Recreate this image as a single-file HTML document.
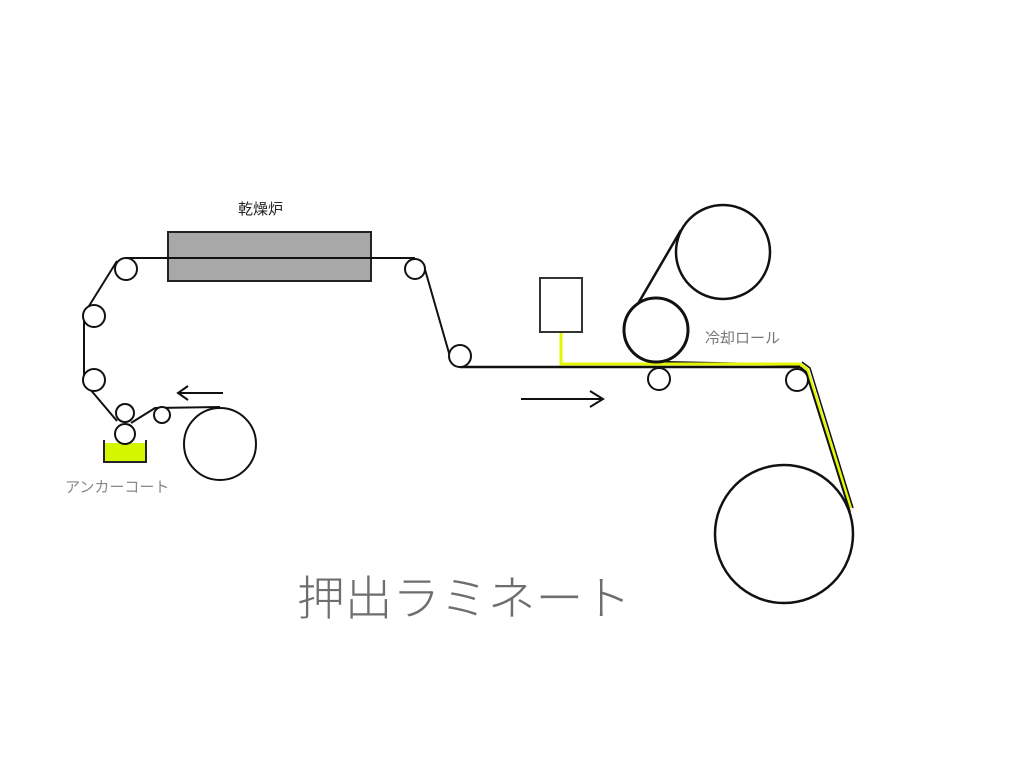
<!DOCTYPE html>
<html><head><meta charset="utf-8"><style>
html,body{margin:0;padding:0;background:#fff;width:1024px;height:768px;overflow:hidden}
svg{display:block}
text{font-family:"Liberation Sans","Noto Sans CJK JP",sans-serif}
</style></head><body>
<svg width="1024" height="768" viewBox="0 0 1024 768" xmlns="http://www.w3.org/2000/svg">
<g fill="none" stroke="#111" stroke-width="2">
<rect x="168" y="232" width="203" height="49" fill="#a8a8a8" stroke="#222"/>
<polyline points="126,258 415,258"/>
<polyline points="117,261 84,314 84,382 117,421"/>
<polyline points="131,423 155,408 220,407"/>
<polyline points="424,266 451,360"/>
<line x1="460" y1="367" x2="800" y2="367" stroke-width="2.5"/>
<line x1="625" y1="326" x2="681" y2="230" stroke-width="2.5"/>
<line x1="655" y1="362" x2="800" y2="365" stroke-width="2.5"/>
</g>
<polyline points="561,332 561,364 800,364 807,369 851,508" fill="none" stroke="#e4f700" stroke-width="3"/>
<polyline points="800,367 806,372 850,512" fill="none" stroke="#111" stroke-width="2"/>
<polyline points="802,362 810,368 853,508" fill="none" stroke="#111" stroke-width="1.5"/>
<g fill="#fff" stroke="#111" stroke-width="2">
<circle cx="126" cy="269" r="11"/>
<circle cx="94" cy="316" r="11"/>
<circle cx="94" cy="380" r="11"/>
<circle cx="125" cy="413" r="9"/>
<circle cx="162" cy="415" r="8"/>
<circle cx="415" cy="269" r="10"/>
<circle cx="460" cy="356" r="11"/>
<circle cx="220" cy="444" r="36"/>
<circle cx="723" cy="252" r="47" stroke-width="2.5"/>
<circle cx="656" cy="330" r="32" stroke-width="3"/>
<circle cx="659" cy="379" r="11"/>
<circle cx="797" cy="380" r="11"/>
<circle cx="784" cy="534" r="69" stroke-width="2.5"/>
<rect x="540" y="278" width="42" height="54" stroke="#333"/>
</g>
<rect x="104" y="443" width="42" height="18" fill="#d4f700"/>
<polyline points="104,440 104,462 146,462 146,440" fill="none" stroke="#222" stroke-width="2"/>
<circle cx="125" cy="434" r="10" fill="#fff" stroke="#111" stroke-width="2"/>
<g fill="none" stroke="#111" stroke-width="2">
<line x1="178" y1="393" x2="223" y2="393"/><polyline points="188,386 178,393 188,400"/>
<line x1="521" y1="399" x2="603" y2="399"/><polyline points="590,391 603,399 590,407"/>
</g>
<text x="238" y="214" font-size="15" fill="#222">乾燥炉</text>
<text x="705" y="343" font-size="15" fill="#777">冷却ロール</text>
<text x="65" y="492" font-size="15" fill="#888">アンカーコート</text>
<text x="297" y="615" font-size="47" font-weight="300" fill="#6e6e6e" textLength="334" lengthAdjust="spacingAndGlyphs">押出ラミネート</text>
</svg>
</body></html>
